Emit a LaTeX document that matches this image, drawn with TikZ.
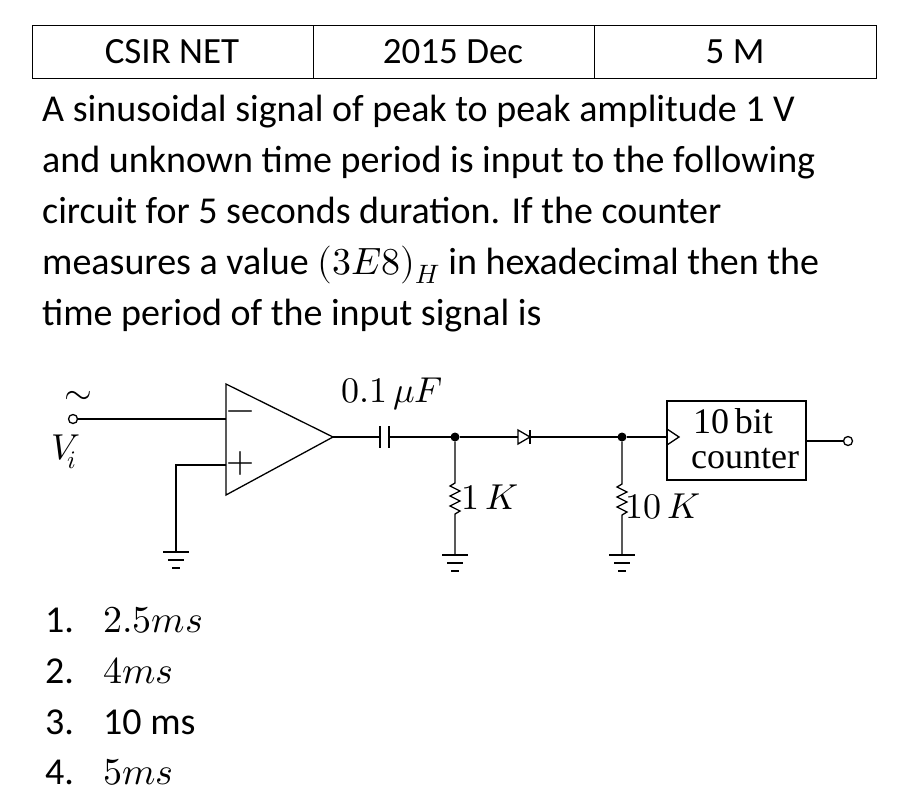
\documentclass[tikz,border=0pt]{standalone}
\usepackage{unicode-math}
\setmainfont{Carlito}
\setmathfont{Latin Modern Math}
\newfontfamily\ckt{Liberation Serif}
\begin{document}
\begin{tikzpicture}[x=1pt,y=-1pt,
  txt/.style={anchor=base west,inner sep=0pt,font=\fontsize{38}{40}\selectfont},
  cell/.style={anchor=center,inner sep=0pt,font=\fontsize{37}{40}\selectfont},
  lab/.style={inner sep=0pt,font=\ckt\fontsize{36}{38}\selectfont},
  w/.style={line width=1.3pt},
  dot/.style={circle,fill=black,inner sep=0pt,minimum size=9pt},
  term/.style={circle,draw,line width=1.3pt,fill=white,inner sep=0pt,minimum size=9pt}]
\useasboundingbox (0,0) rectangle (907,801);
% table
\draw[line width=0.8pt] (32,25) rectangle (876,78) (313,25)--(313,78) (594,25)--(594,78);
\node[cell] (c1) at (172,52) {CSIR NET};
\node[cell] (c2) at (453,52) {2015 Dec};
\node[cell] (c3) at (735,52) {5 M};
% question
\node[txt] (l1) at (42,121) {A sinusoidal signal of peak to peak amplitude 1 V};
\node[txt] (l2) at (42,172) {and unknown time period is input to the following};
\node[txt] (l3) at (42,223) {circuit for 5 seconds duration. If the counter};
\node[txt] (l4) at (42,274) {measures a value $(3E8)_H$ in hexadecimal then the};
\node[txt] (l5) at (42,325) {time period of the input signal is};
% options
\node[txt] (o1) at (45,632) {1.}; \node[txt] (p1) at (103,632) {$2.5ms$};
\node[txt] (o2) at (45,683) {2.}; \node[txt] (p2) at (103,683) {$4ms$};
\node[txt] (o3) at (45,734) {3.}; \node[txt] (p3) at (103,734) {10 ms};
\node[txt] (o4) at (45,784) {4.}; \node[txt] (p4) at (103,784) {$5ms$};
% circuit
\coordinate (inm) at (226,419);
\coordinate (inp) at (226,465);
\coordinate (out) at (333,437);
\draw[w] (226,384) -- (out) -- (226,495) -- cycle;
\node[lab] (minus) at (241,416) {$-$};
\node[lab] (plus) at (241,463) {$+$};
\node[term] (vi) at (73,419) {};
\node[lab] (tilde) at (78,398) {$\sim$};
\node[lab] (vlab) at (64,452) {$V_{\!i}$};
\draw[w] (vi) -- (inm);
\coordinate (gp) at (176,465);
\draw[w] (inp) -- (gp) -- (176,552);
\draw[w] (163,552)--(189,552) (168,560)--(184,560) (172,568)--(180,568);
% capacitor
\coordinate (ca) at (380,437); \coordinate (cb) at (389,437);
\draw[w] (out) -- (ca) (cb) -- (455,437);
\draw[w] (ca)++(0,-11) -- ++(0,22);
\draw[w] (cb)++(0,-11) -- ++(0,22);
\node[lab] (clab) at (392,394) {$0.1\,\mu F$};
\node[dot] (n1) at (455,437) {};
% 1K resistor
\draw[w] (n1) -- (455,483) -- (450,486) -- (460,491) -- (450,496) -- (460,501) -- (450,506) -- (460,511) -- (455,514) -- (455,555);
\draw[w] (442,555)--(468,555) (447,563)--(463,563) (451,571)--(459,571);
\node[lab,anchor=west] (r1lab) at (461,497) {$1\,K$};
% diode
\draw[w] (n1) -- (622,437);
\draw[w,fill=white] (518,430) -- (530,437) -- (518,444) -- cycle;
\draw[w] (530,430) -- (530,444);
\node[dot] (n2) at (622,437) {};
% 10K resistor
\draw[w] (n2) -- (622,484) -- (617,487) -- (627,492) -- (617,497) -- (627,502) -- (617,507) -- (627,512) -- (622,515) -- (622,555);
\draw[w] (609,555)--(635,555) (614,563)--(630,563) (618,571)--(626,571);
\node[lab,anchor=west] (r2lab) at (625,507) {$10\,K$};
% counter
\draw[w] (667,401) rectangle (806,480);
\draw[w] (n2) -- (667,437);
\draw[w] (667,429) -- (679,437) -- (667,445);
\node[lab] (t1) at (733,421) {10\,bit};
\node[lab] (t2) at (745,459) {counter};
\node[term] (vo) at (848,441) {};
\draw[w] (806,441) -- (vo);
\end{tikzpicture}
\end{document}
